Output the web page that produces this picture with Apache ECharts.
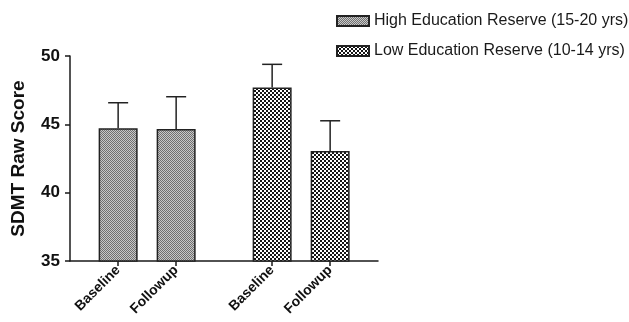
<!DOCTYPE html>
<html>
<head>
<meta charset="utf-8">
<script src="https://cdn.jsdelivr.net/npm/echarts@6/dist/echarts.min.js"></script>
<style>html,body{margin:0;padding:0;background:#fff}#c{width:629px;height:322px}</style>
</head>
<body>
<div id="c"></div>
<script>
// ---- data ----
var tickLabels = ['Baseline', 'Followup', 'Baseline', 'Followup'];
var highPositions = [1, 2];
var lowPositions = [3.655, 4.655];
var highMeans = [44.71, 44.66];
var highErr = [1.87, 2.36];
var lowMeans = [47.70, 43.05];
var lowErr = [1.69, 2.21];
var seriesNames = ['High Education Reserve (15-20 yrs)', 'Low Education Reserve (10-14 yrs)'];

function makePattern(cell, c1, c2) {
  var cv = document.createElement('canvas');
  cv.width = cell * 2; cv.height = cell * 2;
  var ctx = cv.getContext('2d');
  ctx.fillStyle = c2; ctx.fillRect(0, 0, cell * 2, cell * 2);
  ctx.fillStyle = c1;
  ctx.fillRect(0, 0, cell, cell);
  ctx.fillRect(cell, cell, cell, cell);
  return { image: cv, repeat: 'repeat' };
}
var highFill = makePattern(1, '#707070', '#c8c8c8');
var lowFill = makePattern(2, '#151515', '#ffffff');

var allPos = highPositions.concat(lowPositions);
function pairs(xs, ys) { return xs.map(function (x, i) { return [x, ys[i]]; }); }
var errData = highPositions.map(function (x, i) { return [x, highMeans[i], highMeans[i] + highErr[i]]; })
  .concat(lowPositions.map(function (x, i) { return [x, lowMeans[i], lowMeans[i] + lowErr[i]]; }));

var chart = echarts.init(document.getElementById('c'));
chart.setOption({
  animation: false,
  backgroundColor: '#fff',
  grid: { left: 70, right: 251, top: 56, bottom: 61 },
  legend: {
    orient: 'vertical', left: 336, top: 13, padding: 0,
    itemWidth: 32, itemHeight: 10, itemGap: 14,
    icon: 'rect',
    textStyle: { fontFamily: 'Liberation Sans, Arial', fontSize: 16, color: '#1a1a1a' },
    data: seriesNames
  },
  xAxis: {
    type: 'value', min: 0.17, max: 5.48,
    splitLine: { show: false },
    axisLine: { show: true, lineStyle: { color: '#1a1a1a', width: 1.5 } },
    axisTick: { show: true, customValues: allPos, length: 5, lineStyle: { color: '#1a1a1a', width: 1.5 } },
    axisLabel: {
      customValues: allPos, rotate: 45, margin: 7,
      fontFamily: 'Liberation Sans, Arial', fontWeight: 'bold', fontSize: 14, color: '#111',
      formatter: function (v) {
        for (var i = 0; i < allPos.length; i++) if (Math.abs(allPos[i] - v) < 1e-6) return tickLabels[i];
        return '';
      }
    }
  },
  yAxis: {
    type: 'value', min: 35, max: 50, interval: 5,
    name: 'SDMT Raw Score', nameLocation: 'middle', nameGap: 42, nameRotate: 90,
    nameTextStyle: { fontFamily: 'Liberation Sans, Arial', fontWeight: 'bold', fontSize: 19, color: '#111' },
    splitLine: { show: false },
    axisLine: { show: true, lineStyle: { color: '#1a1a1a', width: 1.5 } },
    axisTick: { show: true, inside: false, length: 5, lineStyle: { color: '#1a1a1a', width: 1.5 } },
    axisLabel: { margin: 10, fontFamily: 'Liberation Sans, Arial', fontWeight: 'bold', fontSize: 17, color: '#111' }
  },
  series: [
    {
      name: seriesNames[0], type: 'bar', barWidth: 39, barGap: '-100%',
      itemStyle: { color: highFill, borderColor: '#222', borderWidth: 1.5 },
      data: pairs(highPositions, highMeans)
    },
    {
      name: seriesNames[1], type: 'bar', barWidth: 39, barGap: '-100%',
      itemStyle: { color: lowFill, borderColor: '#222', borderWidth: 1.5 },
      data: pairs(lowPositions, lowMeans)
    },
    {
      type: 'custom', name: 'err', z: 1,
      encode: { x: 0, y: [1, 2] },
      data: errData,
      renderItem: function (params, api) {
        var x = api.value(0);
        var base = api.coord([x, api.value(1)]);
        var top = api.coord([x, api.value(2)]);
        var half = 10;
        var st = { stroke: '#222', lineWidth: 1.5 };
        return {
          type: 'group',
          children: [
            { type: 'line', shape: { x1: base[0], y1: base[1], x2: top[0], y2: top[1] }, style: st },
            { type: 'line', shape: { x1: top[0] - half, y1: top[1], x2: top[0] + half, y2: top[1] }, style: st }
          ]
        };
      }
    }
  ]
});
</script>
</body>
</html>
